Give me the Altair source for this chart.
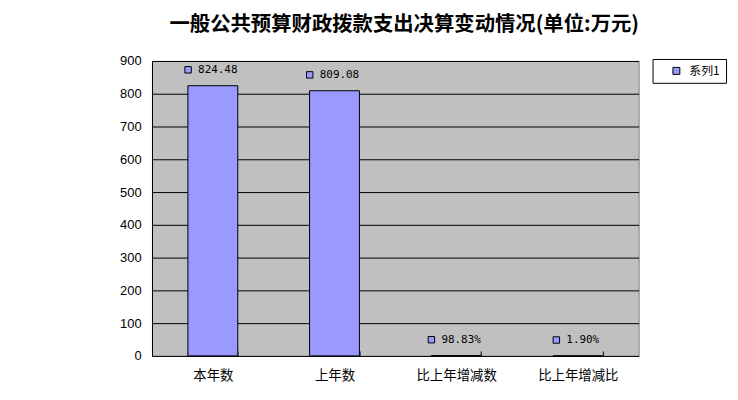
import altair as alt
import pandas as pd

categories = ["本年数", "上年数", "比上年增减数", "比上年增减比"]
values = [824.48, 809.08, 0.9883, 0.019]
value_labels = ["824.48", "809.08", "98.83%", "1.90%"]
series = ["系列1", "系列1", "系列1", "系列1"]
y_ticks = [0, 100, 200, 300, 400, 500, 600, 700, 800, 900]
title_text = "一般公共预算财政拨款支出决算变动情况(单位:万元)"

BAR = "#9999FF"

df = pd.DataFrame({"cat": categories, "value": values, "label": value_labels, "series": series})

x_enc = alt.X(
    "cat:N", sort=categories, title=None,
    scale=alt.Scale(paddingInner=0.59, paddingOuter=0.295),
    axis=alt.Axis(labelAngle=0, domain=False, ticks=True, tickSize=5, tickBand="extent",
                  offset=-5, labelPadding=13, labelFont="Noto Sans CJK SC", labelFontSize=13.5,
                  labelColor="black", tickColor="black", grid=False),
)
y_enc = alt.Y(
    "value:Q", title=None, scale=alt.Scale(domain=[0, 900]),
    axis=alt.Axis(values=y_ticks, ticks=False, tickSize=0, labelPadding=11, domainColor="black",
                  gridColor="black", gridOpacity=1, labelFont="Liberation Sans", labelFontSize=13,
                  labelColor="black"),
)

base = alt.Chart(df).encode(x=x_enc, y=y_enc)

bars = base.mark_bar(stroke="black", strokeWidth=1).encode(
    color=alt.Color("series:N", scale=alt.Scale(range=[BAR]),
                    legend=alt.Legend(title=None, orient="none", legendX=504, legendY=-2,
                                      symbolType="square", symbolSize=49, symbolStrokeColor="black",
                                      symbolStrokeWidth=1, symbolOffset=12, labelOffset=7,
                                      labelFont="Noto Sans CJK SC", labelFontSize=12, labelColor="black",
                                      labelExpr="datum.label + '\u00a0\u00a0\u00a0'",
                                      padding=6, strokeColor="black", fillColor="white"))
)

labels = base.mark_text(color="black", font="DejaVu Sans Mono", fontSize=11, baseline="middle",
                        align="center", dx=5, dy=-16).encode(text="label:N")
squares = base.transform_calculate(
    sqoff="25 - length(datum.label) * 3.3 - 5"
).mark_point(shape="square", filled=True, fill=BAR, stroke="black", strokeWidth=1, size=42,
             opacity=1, yOffset=-16).encode(
    xOffset=alt.XOffset("sqoff:Q", scale=None)
)

chart = alt.layer(bars, squares, labels).properties(
    width=490, height=297,
    autosize=alt.AutoSizeParams(type="none"),
    padding={"left": 145, "top": 52, "right": 92, "bottom": 35},
    title=alt.TitleParams(title_text, font="Noto Sans CJK SC", fontSize=20.5, fontWeight="bold",
                          anchor="middle", dx=9, offset=20, color="black"),
).configure_view(fill="#C0C0C0", stroke="#808080", strokeWidth=1)

chart.save("out.html", embed_options={"renderer": "svg", "actions": False})
